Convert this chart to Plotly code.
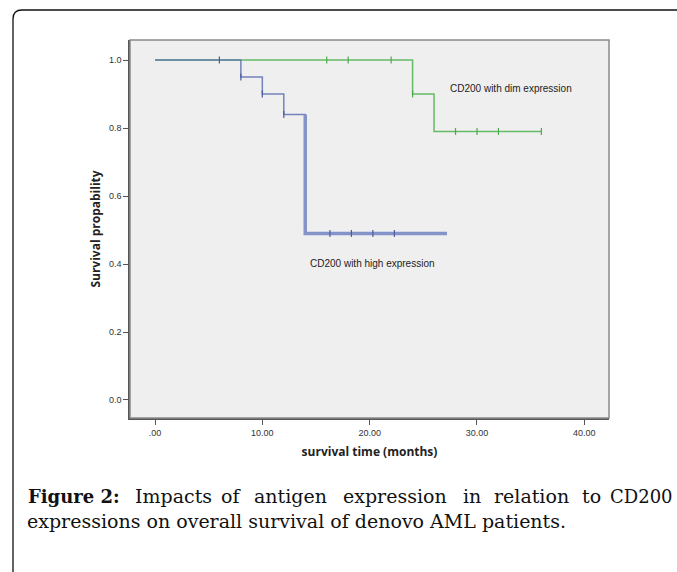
import plotly.graph_objects as go

# ---- data ----
high_step_t = [0, 8, 10, 12, 14]
high_step_s = [1.0, 0.95, 0.90, 0.84, 0.49]
high_end_t = 27.2
high_censor_t = [6, 8, 10, 12, 16.3, 18.3, 20.3, 22.3]

dim_step_t = [0, 24, 26]
dim_step_s = [1.0, 0.90, 0.79]
dim_end_t = 36
dim_censor_t = [16, 18, 22, 24, 28, 30, 32, 36]

x_tickvals = [0, 10, 20, 30, 40]
x_ticktext = [".00", "10.00", "20.00", "30.00", "40.00"]
y_tickvals = [0.0, 0.2, 0.4, 0.6, 0.8, 1.0]

label_dim = "CD200 with dim expression"
label_high = "CD200 with high expression"
caption_line1 = ["<b>Figure 2:</b>", "Impacts", "of", "antigen", "expression", "in",
                 "relation", "to", "CD200"]
caption_line2 = "expressions on overall survival of denovo AML patients."

# ---- geometry ----
W, H = 677, 572
L, R, T, B = 130, 609, 40, 418


def px(x):
    return (x - L) / (R - L)


def py(y):
    return (B - y) / (B - T)


def step_value(ts, ss, t):
    v = ss[0]
    for ti, si in zip(ts, ss):
        if t >= ti:
            v = si
    return v


GREEN = "#66bb66"
BLUE = "#5f71b3"
BLUE_THICK = "#8593c9"

fig = go.Figure()

# dim curve
fig.add_trace(go.Scatter(
    x=dim_step_t + [dim_end_t], y=dim_step_s + [dim_step_s[-1]],
    mode="lines", line=dict(color=GREEN, width=1.5, shape="hv"), hoverinfo="skip"))
fig.add_trace(go.Scatter(
    x=dim_censor_t, y=[step_value(dim_step_t, dim_step_s, t) for t in dim_censor_t],
    mode="markers", marker=dict(symbol="line-ns", size=5, line=dict(color="#4fa84f", width=1.2)),
    hoverinfo="skip"))

# high curve
fig.add_trace(go.Scatter(
    x=high_step_t + [high_end_t], y=high_step_s + [high_step_s[-1]],
    mode="lines", line=dict(color=BLUE, width=1.5, shape="hv"), opacity=0.85, hoverinfo="skip"))
fig.add_trace(go.Scatter(
    x=[high_step_t[-1], high_step_t[-1], high_end_t],
    y=[high_step_s[-2], high_step_s[-1], high_step_s[-1]],
    mode="lines", line=dict(color=BLUE_THICK, width=3.5), hoverinfo="skip"))
fig.add_trace(go.Scatter(
    x=high_censor_t, y=[step_value(high_step_t, high_step_s, t) for t in high_censor_t],
    mode="markers", marker=dict(symbol="line-ns", size=5, line=dict(color="#4a5c9c", width=1.2)),
    hoverinfo="skip"))

axis_font = dict(family="Liberation Sans, Arial", size=9, color="#333333")
title_font = dict(family="Open Sans, DejaVu Sans", size=12, color="#222222")

fig.update_xaxes(
    range=[-2.33, 42.3], tickvals=x_tickvals, ticktext=x_ticktext,
    showgrid=False, zeroline=False, showline=True, linecolor="#555555", linewidth=1.5,
    ticks="outside", ticklen=5, tickcolor="#555555", tickfont=axis_font,
    title=dict(text="<b>survival time (months)</b>", font=title_font, standoff=11))
fig.update_yaxes(
    range=[-0.053, 1.059], tickvals=y_tickvals, tickformat=".1f",
    showgrid=False, zeroline=False, showline=True, linecolor="#555555", linewidth=1.5,
    ticks="outside", ticklen=5, tickcolor="#555555", tickfont=axis_font,
    title=dict(text="<b>Survival propability</b>", font=title_font, standoff=6))

shapes = [
    # plot frame (top/right lighter)
    dict(type="rect", xref="paper", yref="paper", x0=0, y0=0, x1=1, y1=1,
         line=dict(color="#8a8a8a", width=1.5), layer="above"),
]
# outer rounded frame
fl, ft, r = 13, 10, 9
path = (f"M {px(fl)},{py(H + 20)} L {px(fl)},{py(ft + r)} "
        f"Q {px(fl)},{py(ft)} {px(fl + r)},{py(ft)} L {px(W + 20)},{py(ft)}")
shapes.append(dict(type="path", xref="paper", yref="paper", path=path,
                   line=dict(color="#111111", width=1.3), layer="above"))

annotations = [
    dict(x=33.2, y=0.917, xref="x", yref="y", text=label_dim, showarrow=False,
         font=dict(family="Liberation Sans, Arial", size=10, color="#222222")),
    dict(x=20.3, y=0.402, xref="x", yref="y", text=label_high, showarrow=False,
         font=dict(family="Liberation Sans, Arial", size=10, color="#222222")),
]

cap_font = dict(family="DejaVu Serif", size=19, color="#111111")
word_x = [26, 133, 219, 252, 341, 461, 492, 580, 675]
for i, (w, x0) in enumerate(zip(caption_line1, word_x)):
    f = dict(cap_font)
    anchor = "left"
    if i == 0:
        f["size"] = 18
    if i == len(caption_line1) - 1:
        f["size"] = 18
        anchor = "right"
    annotations.append(dict(x=px(x0), y=py(496), xref="paper", yref="paper", text=w,
                            showarrow=False, xanchor=anchor, yanchor="middle",
                            font=f))
annotations.append(dict(x=px(25), y=py(521), xref="paper", yref="paper", text=caption_line2,
                        showarrow=False, xanchor="left", yanchor="middle", font=cap_font))

fig.update_layout(
    width=W, height=H, autosize=False,
    margin=dict(l=L, r=W - R, t=T, b=H - B),
    paper_bgcolor="white", plot_bgcolor="#efefef",
    showlegend=False, shapes=shapes, annotations=annotations)

fig.write_html("out.html", config={"displayModeBar": False},
               post_script="document.body.style.margin='0';document.body.style.overflow='hidden';")
